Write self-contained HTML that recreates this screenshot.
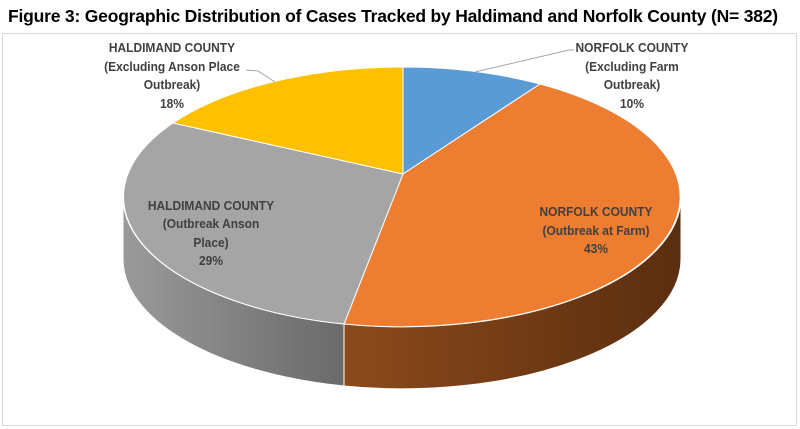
<!DOCTYPE html>
<html><head><style>
body{margin:0;width:800px;height:429px;background:#fff;overflow:hidden;font-family:"Liberation Sans",sans-serif}
.t{position:absolute;left:8px;top:6px;font-size:17.5px;font-weight:bold;color:#000;white-space:nowrap;letter-spacing:-0.2px}
</style></head><body>
<div class="t">Figure 3: Geographic Distribution of Cases Tracked by Haldimand and Norfolk County (N= 382)</div>
<svg width="800" height="429" style="position:absolute;left:0;top:0">
<defs>
<linearGradient id="gg" x1="0" x2="1" y1="0" y2="0"><stop offset="0" stop-color="#9a9a9a"/><stop offset="1" stop-color="#6a6a6a"/></linearGradient>
<linearGradient id="og" x1="0" x2="1" y1="0" y2="0"><stop offset="0" stop-color="#8c4a1c"/><stop offset="1" stop-color="#5a2e10"/></linearGradient>
</defs>
<rect x="2.5" y="33.5" width="794" height="392" fill="none" stroke="#d9d9d9"/>
<path d="M123,197 A279,130 0 0 0 344,324 L344,386 A279,130 0 0 1 123,259 Z" fill="url(#gg)" stroke="#fff" stroke-width="1"/>
<path d="M344,324 A279,130 0 0 0 681,197 L681,259 A279,130 0 0 1 344,386 Z" fill="url(#og)" stroke="#fff" stroke-width="1"/>
<path d="M403,174 L403,67 A279,130 0 0 1 540,84 Z" fill="#5b9bd5" stroke="#fff"/>
<path d="M403,174 L540,84 A279,130 0 0 1 344,324 Z" fill="#ed7d31" stroke="#fff"/>
<path d="M403,174 L344,324 A279,130 0 0 1 173,123 Z" fill="#a5a5a5" stroke="#fff"/>
<path d="M403,174 L173,123 A279,130 0 0 1 403,67 Z" fill="#ffc000" stroke="#fff"/>
<polyline points="475,72 569,50 574,50" fill="none" stroke="#a5a5a5"/>
<polyline points="246,70 258,71 275,82" fill="none" stroke="#a5a5a5"/>
<g font-size="13" font-weight="bold" fill="#404040" text-anchor="middle" textLength="0">
<text x="632" y="52" transform="translate(632 0) scale(0.92 1) translate(-632 0)">NORFOLK COUNTY</text>
<text x="632" y="71" transform="translate(632 0) scale(0.92 1) translate(-632 0)">(Excluding Farm</text>
<text x="632" y="89" transform="translate(632 0) scale(0.92 1) translate(-632 0)">Outbreak)</text>
<text x="632" y="108" transform="translate(632 0) scale(0.92 1) translate(-632 0)">10%</text>
<text x="172" y="52" transform="translate(172 0) scale(0.92 1) translate(-172 0)">HALDIMAND COUNTY</text>
<text x="172" y="71" transform="translate(172 0) scale(0.92 1) translate(-172 0)">(Excluding Anson Place</text>
<text x="172" y="89" transform="translate(172 0) scale(0.92 1) translate(-172 0)">Outbreak)</text>
<text x="172" y="108" transform="translate(172 0) scale(0.92 1) translate(-172 0)">18%</text>
<text x="211" y="210" transform="translate(211 0) scale(0.92 1) translate(-211 0)">HALDIMAND COUNTY</text>
<text x="211" y="228" transform="translate(211 0) scale(0.92 1) translate(-211 0)">(Outbreak Anson</text>
<text x="211" y="247" transform="translate(211 0) scale(0.92 1) translate(-211 0)">Place)</text>
<text x="211" y="265" transform="translate(211 0) scale(0.92 1) translate(-211 0)">29%</text>
<text x="596" y="216" transform="translate(596 0) scale(0.92 1) translate(-596 0)">NORFOLK COUNTY</text>
<text x="596" y="235" transform="translate(596 0) scale(0.92 1) translate(-596 0)">(Outbreak at Farm)</text>
<text x="596" y="253" transform="translate(596 0) scale(0.92 1) translate(-596 0)">43%</text>
</g>
</svg>
</body></html>
